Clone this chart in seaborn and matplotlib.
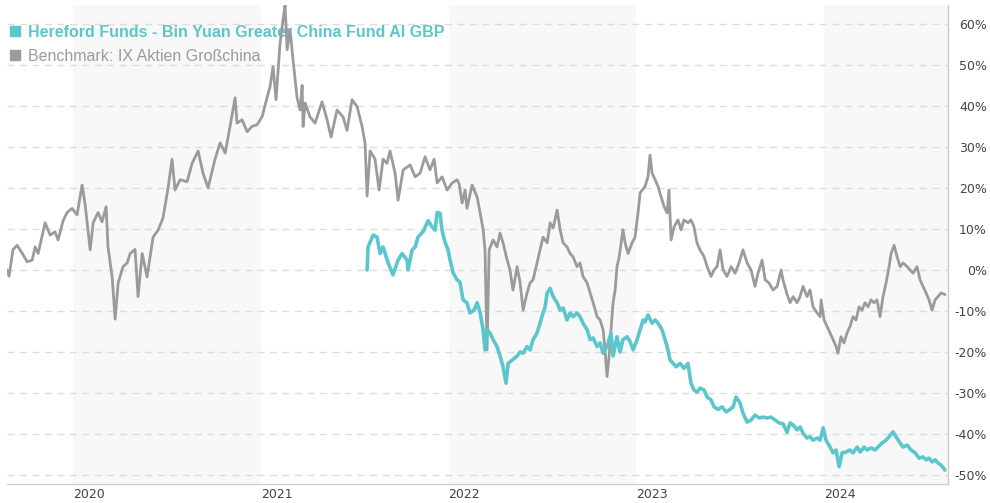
import pandas as pd
import seaborn as sns
import matplotlib.pyplot as plt
from matplotlib.lines import Line2D

# --- Global Style Settings ---
sns.set_theme(style="white")
plt.rcParams['font.family'] = ['Liberation Sans', 'DejaVu Sans']

FUND_COLOR = "#5bc6cc"
BENCH_COLOR = "#9b9b9b"
FUND_LABEL = "Hereford Funds - Bin Yuan Greater China Fund AI GBP"
BENCH_LABEL = "Benchmark: IX Aktien Großchina"

# --- Data (time in decimal years, performance in %) ---
bench_time = [
    2019.648, 2019.659, 2019.680, 2019.702, 2019.734, 2019.755, 2019.782, 2019.798, 2019.814, 2019.851,
    2019.878, 2019.904, 2019.920, 2019.947, 2019.968, 2019.995, 2020.021, 2020.048, 2020.064, 2020.091,
    2020.107, 2020.133, 2020.154, 2020.176, 2020.186, 2020.208, 2020.224, 2020.240, 2020.266, 2020.288,
    2020.304, 2020.330, 2020.346, 2020.368, 2020.394, 2020.426, 2020.453, 2020.479, 2020.506, 2020.527,
    2020.543, 2020.570, 2020.607, 2020.634, 2020.666, 2020.692, 2020.719, 2020.756, 2020.783, 2020.810,
    2020.836, 2020.863, 2020.873, 2020.900, 2020.927, 2020.953, 2020.980, 2021.007, 2021.033, 2021.049,
    2021.065, 2021.081, 2021.102, 2021.118, 2021.129, 2021.140, 2021.156, 2021.172, 2021.193, 2021.209,
    2021.220, 2021.225, 2021.236, 2021.262, 2021.289, 2021.326, 2021.353, 2021.374, 2021.406, 2021.438,
    2021.459, 2021.486, 2021.513, 2021.539, 2021.555, 2021.566, 2021.582, 2021.608, 2021.630, 2021.651,
    2021.672, 2021.688, 2021.715, 2021.731, 2021.758, 2021.795, 2021.822, 2021.848, 2021.875, 2021.901,
    2021.923, 2021.939, 2021.965, 2021.992, 2022.019, 2022.045, 2022.056, 2022.072, 2022.088, 2022.098,
    2022.125, 2022.152, 2022.168, 2022.184, 2022.194, 2022.205, 2022.216, 2022.237, 2022.258, 2022.274,
    2022.290, 2022.312, 2022.327, 2022.343, 2022.365, 2022.381, 2022.397, 2022.418, 2022.434, 2022.450,
    2022.471, 2022.487, 2022.503, 2022.525, 2022.541, 2022.557, 2022.578, 2022.594, 2022.610, 2022.631,
    2022.647, 2022.663, 2022.684, 2022.700, 2022.716, 2022.738, 2022.754, 2022.770, 2022.791, 2022.807,
    2022.823, 2022.833, 2022.844, 2022.855, 2022.865, 2022.876, 2022.887, 2022.897, 2022.908, 2022.929,
    2022.940, 2022.956, 2022.977, 2022.993, 2023.009, 2023.020, 2023.046, 2023.062, 2023.073, 2023.084,
    2023.100, 2023.116, 2023.132, 2023.148, 2023.164, 2023.174, 2023.185, 2023.201, 2023.222, 2023.238,
    2023.254, 2023.275, 2023.291, 2023.307, 2023.323, 2023.339, 2023.361, 2023.377, 2023.398, 2023.414,
    2023.430, 2023.446, 2023.462, 2023.483, 2023.505, 2023.526, 2023.547, 2023.568, 2023.590, 2023.611,
    2023.632, 2023.648, 2023.670, 2023.686, 2023.707, 2023.728, 2023.750, 2023.771, 2023.781, 2023.803,
    2023.819, 2023.835, 2023.856, 2023.872, 2023.888, 2023.909, 2023.925, 2023.941, 2023.963, 2023.979,
    2023.984, 2024.000, 2024.016, 2024.032, 2024.048, 2024.064, 2024.074, 2024.090, 2024.106, 2024.122,
    2024.138, 2024.154, 2024.170, 2024.186, 2024.202, 2024.218, 2024.234, 2024.250, 2024.266, 2024.282,
    2024.298, 2024.314, 2024.330, 2024.346, 2024.357, 2024.373, 2024.389, 2024.405, 2024.421, 2024.442,
    2024.458, 2024.474, 2024.495, 2024.511, 2024.527, 2024.543, 2024.559, 2024.575, 2024.591, 2024.607,
    2024.623, 2024.644,
]
bench_perf = [
    0.0, -1.5, 5.0, 6.0, 3.7, 2.0, 2.4, 5.6, 4.0, 11.5,
    8.5, 9.3, 7.3, 12.0, 14.0, 15.0, 13.4, 20.7, 16.0, 4.9,
    11.5, 14.0, 11.7, 15.4, 5.6, -1.7, -12.0, -3.2, 0.8, 1.7,
    4.0, 5.0, -6.5, 4.0, -1.7, 8.0, 9.7, 12.7, 20.0, 27.0,
    19.5, 22.0, 21.5, 26.0, 29.0, 23.6, 20.0, 27.0, 31.0, 28.5,
    35.0, 42.0, 35.8, 36.6, 33.7, 35.0, 35.4, 37.4, 42.0, 44.7,
    49.6, 41.5, 55.0, 61.0, 64.6, 53.7, 58.5, 51.0, 42.0, 39.0,
    45.0, 35.0, 40.7, 37.3, 35.8, 41.0, 36.6, 32.4, 39.0, 37.3,
    34.0, 41.5, 39.8, 35.0, 31.0, 18.0, 29.0, 27.0, 19.5, 27.0,
    26.0, 29.0, 23.6, 17.0, 24.4, 25.6, 22.7, 23.6, 27.6, 24.4,
    27.0, 21.2, 22.7, 19.5, 21.2, 22.0, 21.0, 16.3, 19.5, 15.0,
    20.7, 17.8, 13.9, 9.8, 4.9, -19.5, 4.9, 7.3, 5.6, 9.0,
    6.6, 2.4, 0.0, -4.9, 0.8, -3.2, -9.8, -5.6, -3.2, -2.4,
    1.7, 4.9, 8.0, 6.6, 11.5, 10.2, 14.6, 9.8, 6.6, 5.6,
    4.0, 3.2, 0.8, 1.7, -1.6, -3.2, -5.6, -8.0, -11.4, -12.2,
    -14.6, -19.5, -26.0, -21.0, -14.6, -8.0, -4.9, 0.8, 3.0, 9.8,
    6.6, 4.0, 6.6, 8.0, 13.9, 18.8, 20.3, 22.7, 28.0, 23.6,
    22.0, 20.3, 17.8, 15.4, 13.9, 19.5, 7.3, 10.5, 12.2, 9.8,
    12.2, 11.5, 12.2, 10.5, 6.6, 4.9, 3.2, 0.8, -1.6, 0.0,
    0.8, 4.9, 0.0, -1.6, 0.8, -0.8, 1.7, 4.9, 1.7, 0.0,
    -4.0, -0.8, 2.4, -2.4, -3.2, -4.9, -4.0, 0.0, -2.4, -6.0,
    -8.0, -6.5, -8.0, -6.5, -4.0, -6.5, -4.9, -9.0, -10.5, -11.4,
    -7.3, -12.2, -13.8, -15.4, -17.0, -18.7, -20.3, -16.3, -17.8, -15.4,
    -13.8, -11.4, -12.2, -9.0, -9.8, -8.0, -9.0, -7.3, -8.0, -7.3,
    -11.4, -6.5, -3.2, 0.8, 4.0, 6.0, 3.2, 0.8, 1.7, 0.8,
    0.0, -0.8, 0.8, -2.4, -4.0, -5.6, -7.3, -9.8, -7.3, -6.5,
    -5.6, -6.0,
]

fund_time = [
    2021.566, 2021.571, 2021.598, 2021.619, 2021.635, 2021.651, 2021.678, 2021.704, 2021.731, 2021.752,
    2021.779, 2021.784, 2021.806, 2021.822, 2021.837, 2021.864, 2021.891, 2021.912, 2021.928, 2021.939,
    2021.955, 2021.965, 2021.981, 2021.997, 2022.008, 2022.024, 2022.045, 2022.061, 2022.077, 2022.098,
    2022.114, 2022.136, 2022.152, 2022.168, 2022.184, 2022.194, 2022.205, 2022.221, 2022.237, 2022.258,
    2022.274, 2022.290, 2022.306, 2022.317, 2022.338, 2022.365, 2022.381, 2022.397, 2022.418, 2022.434,
    2022.450, 2022.471, 2022.487, 2022.503, 2022.514, 2022.525, 2022.541, 2022.557, 2022.578, 2022.594,
    2022.610, 2022.631, 2022.647, 2022.663, 2022.684, 2022.700, 2022.716, 2022.738, 2022.754, 2022.770,
    2022.791, 2022.807, 2022.823, 2022.844, 2022.865, 2022.876, 2022.897, 2022.913, 2022.929, 2022.951,
    2022.967, 2022.983, 2023.004, 2023.020, 2023.036, 2023.046, 2023.062, 2023.084, 2023.100, 2023.116,
    2023.137, 2023.148, 2023.164, 2023.180, 2023.196, 2023.212, 2023.233, 2023.254, 2023.275, 2023.291,
    2023.307, 2023.323, 2023.339, 2023.361, 2023.377, 2023.398, 2023.414, 2023.435, 2023.457, 2023.478,
    2023.499, 2023.515, 2023.531, 2023.552, 2023.568, 2023.590, 2023.611, 2023.632, 2023.654, 2023.675,
    2023.696, 2023.718, 2023.739, 2023.760, 2023.781, 2023.803, 2023.819, 2023.835, 2023.856, 2023.872,
    2023.888, 2023.909, 2023.925, 2023.941, 2023.963, 2023.979, 2023.995, 2024.010, 2024.032, 2024.048,
    2024.064, 2024.080, 2024.096, 2024.117, 2024.138, 2024.154, 2024.176, 2024.192, 2024.213, 2024.229,
    2024.250, 2024.271, 2024.287, 2024.309, 2024.330, 2024.346, 2024.367, 2024.383, 2024.405, 2024.421,
    2024.442, 2024.463, 2024.485, 2024.506, 2024.527, 2024.543, 2024.559, 2024.575, 2024.591, 2024.607,
    2024.623, 2024.644,
]
fund_perf = [
    0.0, 5.6, 8.5, 8.0, 4.0, 5.6, 1.7, -1.2, 2.4, 4.0,
    2.4, 0.0, 4.9, 5.6, 8.0, 9.3, 12.0, 10.5, 9.7, 14.0,
    13.8, 9.7, 6.8, 4.9, 2.4, -0.7, -2.4, -3.0, -7.3, -8.0,
    -10.5, -9.8, -8.0, -10.5, -14.6, -19.5, -14.6, -15.4, -17.0, -18.7,
    -21.0, -23.6, -27.6, -22.8, -22.0, -21.0, -20.0, -20.3, -18.7, -19.5,
    -17.0, -15.4, -13.0, -10.5, -9.0, -5.6, -4.5, -6.5, -8.0, -9.8,
    -9.3, -12.2, -10.5, -11.4, -10.5, -11.4, -13.0, -14.6, -17.0, -16.6,
    -18.7, -17.8, -20.3, -18.7, -15.4, -21.0, -16.3, -20.0, -17.0, -16.3,
    -17.5, -19.5, -17.0, -14.6, -12.2, -12.7, -11.0, -13.0, -12.2, -13.0,
    -14.6, -16.3, -18.7, -22.0, -22.8, -23.6, -22.8, -24.0, -22.8, -27.6,
    -29.3, -29.8, -28.8, -29.3, -31.0, -31.7, -33.4, -34.0, -33.4, -34.6,
    -34.0, -33.4, -31.0, -32.4, -34.9, -37.1, -36.6, -35.4, -36.1, -35.9,
    -36.1, -35.9, -36.6, -37.3, -37.5, -39.6, -37.3, -37.8, -39.0, -38.3,
    -39.8, -41.0, -40.7, -41.5, -41.0, -41.5, -38.5, -41.5, -43.2, -44.6,
    -43.9, -48.0, -44.6, -44.4, -43.9, -44.6, -43.2, -44.4, -43.2, -43.9,
    -43.4, -43.9, -43.2, -42.2, -41.5, -40.7, -39.5, -40.7, -42.2, -43.2,
    -42.7, -43.9, -44.6, -45.9, -45.6, -46.3, -45.9, -46.8, -46.3, -47.1,
    -47.6, -48.8,
]

years = [2020, 2021, 2022, 2023, 2024]
shaded_years = [2020, 2022, 2024]
y_ticks = list(range(-50, 61, 10))

bench_df = pd.DataFrame({"time": bench_time, "perf": bench_perf})
fund_df = pd.DataFrame({"time": fund_time, "perf": fund_perf})

# --- Figure ---
fig = plt.figure(figsize=(9.9, 5.03), dpi=100)
ax = fig.add_axes([7 / 990, 19 / 503, 941 / 990, 479 / 503])

for yr in shaded_years:
    ax.axvspan(yr, yr + 1, color="#f8f8f8", lw=0, zorder=0)

sns.lineplot(data=bench_df, x="time", y="perf", ax=ax, color=BENCH_COLOR,
             linewidth=2.0, estimator=None, sort=False, zorder=3)
sns.lineplot(data=fund_df, x="time", y="perf", ax=ax, color=FUND_COLOR,
             linewidth=2.6, estimator=None, sort=False, zorder=4)

ax.set_xlim(2019.648, 2024.660)
ax.set_ylim(-52.2, 64.6)

# grid
ax.set_yticks(y_ticks)
ax.yaxis.grid(True, color="#dcdcdc", linestyle=(0, (5, 4)), linewidth=1)
ax.xaxis.grid(False)
ax.set_axisbelow(True)

# right axis labels
ax.yaxis.tick_right()
ax.set_yticklabels([f"{v}%" for v in y_ticks])
ax.tick_params(axis="y", length=0, pad=28, labelsize=9, labelcolor="#444444")
for lab in ax.get_yticklabels():
    lab.set_horizontalalignment("right")
    lab.set_family("DejaVu Sans")

ax.set_xticks(years)
ax.set_xticklabels([str(y) for y in years])
ax.tick_params(axis="x", length=0, pad=3, labelsize=9, labelcolor="#444444")
for lab in ax.get_xticklabels():
    lab.set_horizontalalignment("left")
    lab.set_family("DejaVu Sans")

ax.set_xlabel("")
ax.set_ylabel("")

for side in ["left", "top"]:
    ax.spines[side].set_visible(False)
for side in ["bottom", "right"]:
    ax.spines[side].set_color("#cccccc")
    ax.spines[side].set_linewidth(1)

# legend
handles = [
    Line2D([], [], marker="s", linestyle="none", color=FUND_COLOR, markersize=6.5),
    Line2D([], [], marker="s", linestyle="none", color=BENCH_COLOR, markersize=6.5),
]
leg = ax.legend(handles, [FUND_LABEL, BENCH_LABEL], loc="upper left",
                bbox_to_anchor=(8 / 990, 1 - 25 / 503), bbox_transform=fig.transFigure,
                frameon=False, fontsize=11.5, handlelength=0.9, handletextpad=0.35,
                labelspacing=0.55, borderaxespad=0, borderpad=0,
                labelcolor=[FUND_COLOR, BENCH_COLOR])
leg.get_texts()[0].set_fontweight("bold")
leg.set_zorder(2)

fig.savefig("out.png", dpi=100)
